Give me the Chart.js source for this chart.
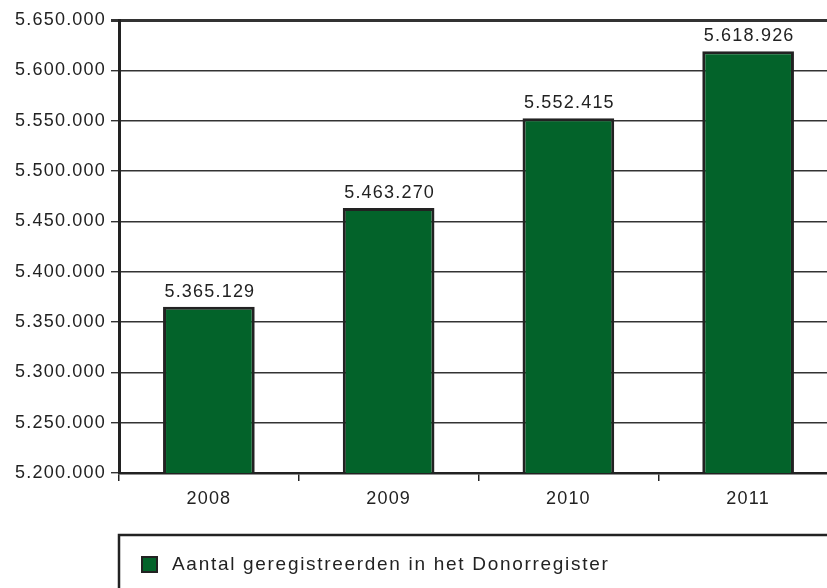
<!DOCTYPE html>
<html>
<head>
<meta charset="utf-8">
<script src="https://cdn.jsdelivr.net/npm/chart.js@4"></script>
<style>
html,body{margin:0;padding:0;background:#fff;overflow:hidden;}
#wrap{width:840px;height:588px;position:relative;}
</style>
</head>
<body>
<div id="wrap"><canvas id="c" width="840" height="588"></canvas></div>
<script>
const categories = ['2008', '2009', '2010', '2011'];
const registrations = [5365129, 5463270, 5552415, 5618926];
const seriesLabel = 'Aantal geregistreerden in het Donorregister';
const yMin = 5200000, yMax = 5650000, yStep = 50000;

const FONT = '"Liberation Sans", Arial, Helvetica, sans-serif';
const GREEN = '#03632a';
const DARK = '#222222';
const SPACING = '1.2px';

function fmt(v){
  return String(Math.round(v)).replace(/\B(?=(\d{3})+(?!\d))/g, '.');
}

const spacingPlugin = {
  id: 'spacing',
  beforeDraw(chart){
    chart.ctx.letterSpacing = SPACING;
  }
};

const labelPlugin = {
  id: 'valueLabels',
  afterDatasetsDraw(chart){
    const ctx = chart.ctx;
    const meta = chart.getDatasetMeta(0);
    ctx.save();
    ctx.letterSpacing = SPACING;
    ctx.font = '18px ' + FONT;
    ctx.fillStyle = DARK;
    ctx.textAlign = 'center';
    ctx.textBaseline = 'alphabetic';
    meta.data.forEach((bar, i) => {
      ctx.fillText(fmt(registrations[i]), bar.x + 1, bar.y - 10);
    });
    ctx.restore();
  }
};

const legendPlugin = {
  id: 'boxLegend',
  afterDraw(chart){
    const ctx = chart.ctx;
    const left = chart.chartArea.left;
    ctx.save();
    ctx.strokeStyle = DARK;
    ctx.lineWidth = 2.5;
    ctx.beginPath();
    ctx.moveTo(left, 600);
    ctx.lineTo(left, 535);
    ctx.lineTo(860, 535);
    ctx.stroke();
    ctx.fillStyle = GREEN;
    ctx.fillRect(142, 557, 15, 15);
    ctx.lineWidth = 2;
    ctx.strokeRect(142, 557, 15, 15);
    ctx.letterSpacing = '1.7px';
    ctx.font = '19px ' + FONT;
    ctx.fillStyle = DARK;
    ctx.textAlign = 'left';
    ctx.textBaseline = 'middle';
    ctx.fillText(seriesLabel, 172, 565);
    ctx.restore();
  }
};

new Chart(document.getElementById('c'), {
  type: 'bar',
  data: {
    labels: categories,
    datasets: [{
      label: seriesLabel,
      data: registrations,
      backgroundColor: GREEN,
      borderColor: DARK,
      borderWidth: 3,
      borderSkipped: false,
      barPercentage: 0.51,
      categoryPercentage: 1.0
    }]
  },
  options: {
    responsive: false,
    animation: false,
    devicePixelRatio: 1,
    layout: { padding: { top: 20, right: 2, left: 0, bottom: 0 } },
    plugins: { legend: { display: false }, tooltip: { enabled: false } },
    scales: {
      x: {
        offset: true,
        afterFit(s){ s.height = 115; },
        grid: {
          offset: true,
          drawOnChartArea: false,
          drawTicks: true,
          tickLength: 8,
          color: DARK,
          lineWidth: 1.5
        },
        border: { display: true, color: DARK, width: 2.5 },
        ticks: { color: DARK, font: { family: FONT, size: 18 }, padding: 7 }
      },
      y: {
        min: yMin,
        max: yMax,
        afterFit(s){ s.width = 119; },
        grid: {
          color: '#333333',
          lineWidth: (c) => (c.tick && c.tick.value === yMax) ? 3 : 1.4,
          tickLength: 8,
          drawTicks: true
        },
        border: { display: true, color: DARK, width: 3 },
        ticks: {
          stepSize: yStep,
          color: DARK,
          padding: 5,
          font: { family: FONT, size: 18 },
          callback: (v) => fmt(v)
        }
      }
    }
  },
  plugins: [spacingPlugin, labelPlugin, legendPlugin]
});
</script>
</body>
</html>
